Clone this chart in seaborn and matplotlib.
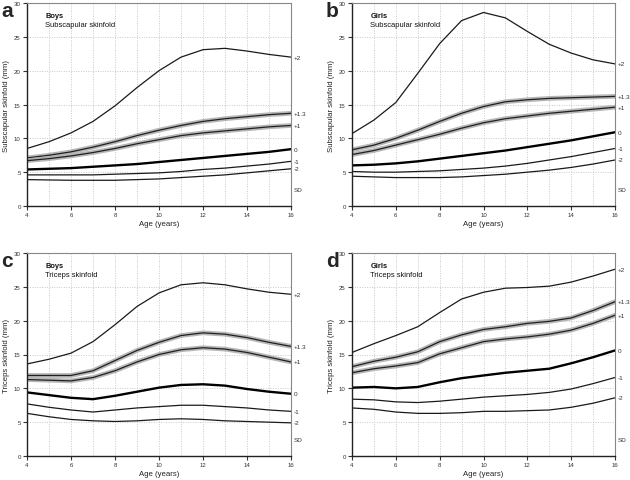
import numpy as np
import pandas as pd
import matplotlib
matplotlib.use("Agg")
import matplotlib.pyplot as plt
import seaborn as sns

ages = list(range(4, 17))
sd_labels = ["+2", "+1.3", "+1", "0", "-1", "-2"]

boys_subscap = {
    "+2":   [8.5, 9.5, 10.8, 12.5, 14.8, 17.5, 20.0, 22.0, 23.1, 23.3, 22.9, 22.4, 22.0],
    "+1.3": [7.1, 7.5, 8.0, 8.7, 9.5, 10.4, 11.2, 11.9, 12.5, 12.9, 13.2, 13.5, 13.7],
    "+1":   [6.7, 7.0, 7.4, 7.9, 8.5, 9.2, 9.8, 10.4, 10.8, 11.1, 11.4, 11.7, 11.9],
    "0":    [5.4, 5.5, 5.6, 5.8, 6.0, 6.2, 6.5, 6.8, 7.1, 7.4, 7.7, 8.0, 8.4],
    "-1":   [4.6, 4.6, 4.6, 4.6, 4.7, 4.8, 4.9, 5.1, 5.4, 5.6, 5.9, 6.2, 6.6],
    "-2":   [3.9, 3.85, 3.8, 3.8, 3.8, 3.9, 4.0, 4.2, 4.4, 4.6, 4.9, 5.2, 5.5],
}
girls_subscap = {
    "+2":   [10.7, 12.7, 15.3, 19.6, 24.0, 27.4, 28.6, 27.8, 25.8, 23.9, 22.6, 21.6, 21.0],
    "+1.3": [8.3, 9.0, 10.0, 11.2, 12.5, 13.7, 14.7, 15.4, 15.7, 15.9, 16.0, 16.1, 16.2],
    "+1":   [7.6, 8.2, 9.0, 9.8, 10.6, 11.5, 12.3, 12.9, 13.3, 13.7, 14.0, 14.3, 14.6],
    "0":    [6.0, 6.1, 6.3, 6.6, 7.0, 7.4, 7.8, 8.2, 8.7, 9.2, 9.7, 10.3, 10.9],
    "-1":   [5.1, 5.0, 5.0, 5.1, 5.2, 5.4, 5.6, 5.9, 6.3, 6.8, 7.3, 7.9, 8.5],
    "-2":   [4.4, 4.3, 4.2, 4.2, 4.2, 4.3, 4.5, 4.7, 5.0, 5.3, 5.7, 6.2, 6.8],
}
boys_triceps = {
    "+2":   [13.6, 14.3, 15.2, 16.9, 19.4, 22.1, 24.1, 25.3, 25.6, 25.3, 24.7, 24.2, 23.9],
    "+1.3": [11.9, 11.9, 11.9, 12.6, 14.1, 15.6, 16.8, 17.8, 18.2, 18.0, 17.5, 16.8, 16.2],
    "+1":   [11.3, 11.2, 11.1, 11.6, 12.6, 13.9, 15.0, 15.7, 16.0, 15.8, 15.3, 14.6, 13.9],
    "0":    [9.4, 9.0, 8.6, 8.4, 8.9, 9.5, 10.1, 10.5, 10.6, 10.4, 9.9, 9.5, 9.2],
    "-1":   [7.7, 7.2, 6.8, 6.5, 6.8, 7.1, 7.3, 7.5, 7.5, 7.3, 7.1, 6.8, 6.6],
    "-2":   [6.3, 5.8, 5.4, 5.2, 5.1, 5.2, 5.4, 5.5, 5.4, 5.2, 5.1, 5.0, 4.9],
}
girls_triceps = {
    "+2":   [15.3, 16.6, 17.8, 19.1, 21.2, 23.2, 24.2, 24.8, 24.9, 25.1, 25.7, 26.6, 27.6],
    "+1.3": [13.2, 14.0, 14.6, 15.4, 16.9, 17.9, 18.7, 19.1, 19.6, 19.9, 20.4, 21.5, 22.8],
    "+1":   [12.3, 12.9, 13.3, 13.8, 15.1, 16.0, 16.9, 17.3, 17.6, 18.0, 18.6, 19.6, 20.8],
    "0":    [10.1, 10.2, 10.0, 10.2, 10.9, 11.5, 11.9, 12.3, 12.6, 12.9, 13.7, 14.6, 15.6],
    "-1":   [8.4, 8.3, 8.0, 7.9, 8.1, 8.4, 8.7, 8.9, 9.1, 9.4, 9.9, 10.7, 11.6],
    "-2":   [7.1, 6.9, 6.5, 6.3, 6.3, 6.4, 6.6, 6.6, 6.7, 6.8, 7.2, 7.8, 8.6],
}

panels = [
    ("a", "Boys", "Subscapular skinfold", "Subscapular skinfold (mm)", boys_subscap),
    ("b", "Girls", "Subscapular skinfold", "Subscapular skinfold (mm)", girls_subscap),
    ("c", "Boys", "Triceps skinfold", "Triceps skinfold (mm)", boys_triceps),
    ("d", "Girls", "Triceps skinfold", "Triceps skinfold (mm)", girls_triceps),
]

sns.set_style("white")
plt.rcParams["font.family"] = ["Liberation Sans", "DejaVu Sans"]

fig = plt.figure(figsize=(6.3, 4.81), dpi=100)
rects = [
    (27 / 630, 1 - 207 / 481, 264 / 630, 203 / 481),
    (352 / 630, 1 - 207 / 481, 263 / 630, 203 / 481),
    (27 / 630, 1 - 457 / 481, 264 / 630, 203 / 481),
    (352 / 630, 1 - 457 / 481, 263 / 630, 203 / 481),
]

for (letter, sex, title, ylabel, data), rect in zip(panels, rects):
    ax = fig.add_axes(rect)
    rows = []
    for lab in sd_labels:
        for a, v in zip(ages, data[lab]):
            rows.append({"Age": a, "value": v, "SD": lab})
    df = pd.DataFrame(rows)

    for lab in sd_labels:
        sub = df[df["SD"] == lab]
        if lab in ("+1.3", "+1"):
            sns.lineplot(data=sub, x="Age", y="value", ax=ax, color="#b0b0b0",
                         lw=3.4, alpha=0.9, legend=False)
            sns.lineplot(data=sub, x="Age", y="value", ax=ax, color="#202020",
                         lw=0.9, legend=False)
        elif lab == "0":
            sns.lineplot(data=sub, x="Age", y="value", ax=ax, color="black",
                         lw=1.7, legend=False)
        else:
            sns.lineplot(data=sub, x="Age", y="value", ax=ax, color="#1a1a1a",
                         lw=0.9, legend=False)
        ax.text(16.12, data[lab][-1], lab, fontsize=4.6, va="center", ha="left",
                color="#333333", clip_on=False)
    ax.text(16.12, 2.5, "SD", fontsize=4.6, va="center", ha="left", color="#333333")

    ax.set_xlim(4, 16)
    ax.set_ylim(0, 30)
    ax.set_xticks(range(4, 17, 2))
    ax.set_yticks(range(0, 31, 5))
    ax.set_xticks(range(4, 17, 1), minor=True)
    ax.tick_params(axis="both", which="major", direction="out", length=3, width=0.8,
                   labelsize=4.4, pad=1.5, colors="#333333", left=True, bottom=True)
    ax.tick_params(axis="x", which="minor", length=0)
    ax.grid(True, which="both", axis="x", linestyle=(0, (1, 1.5)), color="#c8c8c8", lw=0.7)
    ax.grid(True, which="major", axis="y", linestyle=(0, (1, 1.5)), color="#c8c8c8", lw=0.7)
    ax.set_axisbelow(True)
    ax.set_xlabel("Age (years)", fontsize=5.6, labelpad=2, color="#222222")
    ax.set_ylabel(ylabel, fontsize=5.6, labelpad=3, color="#222222")
    for side in ("left", "bottom"):
        ax.spines[side].set_color("#222222")
        ax.spines[side].set_linewidth(1.0)
    for side in ("top", "right"):
        ax.spines[side].set_visible(True)
        ax.spines[side].set_color("#888888")
        ax.spines[side].set_linewidth(0.8)

    ax.text(0.07, 0.955, sex, transform=ax.transAxes, fontsize=5.4, fontweight="bold",
            va="top", ha="left", color="#111111")
    ax.text(0.07, 0.91, title, transform=ax.transAxes, fontsize=5.4,
            va="top", ha="left", color="#111111")
    fig.text(rect[0] - 26 / 630, rect[1] + rect[3] + 2 / 481, letter, fontsize=15,
             fontweight="bold", va="top", ha="left")

fig.savefig("out.png", dpi=100)
